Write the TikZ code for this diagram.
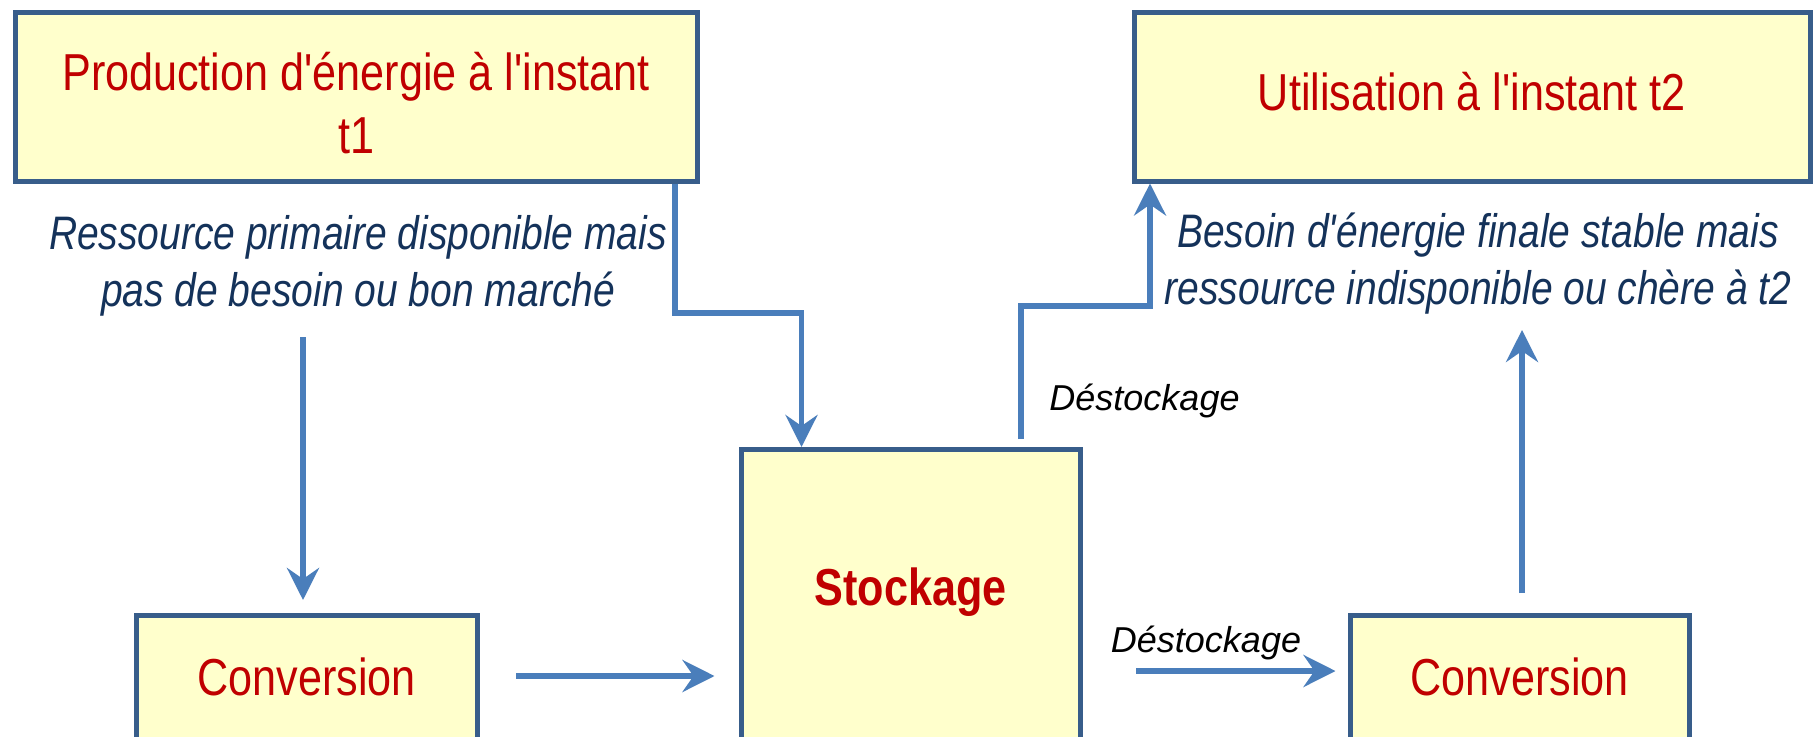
\documentclass[tikz,border=0pt]{standalone}
\usepackage{fontspec}
\setmainfont{Liberation Sans}[Ligatures=TeXOff]
\newfontfamily\narrowfont{Liberation Sans}[FakeStretch=0.83, Ligatures=TeXOff]
\usetikzlibrary{arrows.meta}
\definecolor{boxfill}{HTML}{FFFFCC}
\definecolor{boxdraw}{HTML}{385D8A}
\definecolor{conncol}{HTML}{4A7EBB}
\definecolor{redtext}{HTML}{C00000}
\definecolor{navytext}{HTML}{14325A}
\begin{document}
\begin{tikzpicture}[x=1pt,y=-1pt,
  boxnode/.style={draw=boxdraw, fill=boxfill, line width=5pt, inner sep=0pt, text=redtext,
    font=\narrowfont\fontsize{52pt}{63pt}\selectfont, align=center},
  desctext/.style={inner sep=0pt, text=navytext,
    font=\narrowfont\itshape\fontsize{47pt}{57pt}\selectfont, align=center},
  destext/.style={inner sep=0pt, font=\itshape\fontsize{36pt}{43pt}\selectfont},
  conn/.style={draw=conncol, line width=5.5pt, -{Stealth[length=32pt,width=32pt,inset=11pt]}},
  connthick/.style={conn, line width=6.5pt},
]
\fill[white] (0,0) rectangle (1814,736);
\useasboundingbox (0,0) rectangle (1814,736);

% boxes
\node[boxnode, minimum width=682pt, minimum height=169pt] (prod) at (356,96.5)
  {\rule{0pt}{52pt}Production d'énergie à l'instant\\t1};
\node[boxnode, minimum width=676pt, minimum height=169pt, text depth=11pt] (util) at (1472,96.5)
  {Utilisation à l'instant t2};
\node[boxnode, minimum width=339pt, anchor=north, text height=156pt, text depth=150pt,
  font=\narrowfont\bfseries\fontsize{52pt}{63pt}\selectfont] (stock) at (910.5,447) {Stockage};
\node[boxnode, minimum width=341pt, anchor=north, text height=80pt, text depth=50pt] (conv1) at (306.5,613) {Conversion};
\node[boxnode, minimum width=339pt, anchor=north, text height=80pt, text depth=50pt] (conv2) at (1519.5,613) {Conversion};

% descriptions
\node[desctext] (desc1) at (358,266) {Ressource primaire disponible mais\\pas de besoin ou bon marché};
\node[desctext] (desc2) at (1478,264) {Besoin d'énergie finale stable mais\\ressource indisponible ou chère à t2};
\node[destext, anchor=base] (lab1) at (1144.5,410) {Déstockage};
\node[destext, anchor=base] (lab2) at (1206,652) {Déstockage};

% connectors
\coordinate (j1) at (675,313);
\coordinate (j2) at (801.5,313);
\draw[conn] (prod.south -| j1) -- (j1) -- (j2) -- (stock.north -| j2);

\coordinate (j3) at (1021,306);
\coordinate (j4) at (1150,306);
\draw[conn] ([yshift=8pt]stock.north -| j3) -- (j3) -- (j4) -- (util.south -| j4);

\coordinate (a1) at (303,337);
\draw[conn] (a1) -- ([yshift=13pt]conv1.north -| a1);

\coordinate (a2) at (1522,330);
\draw[conn] ([yshift=20pt]conv2.north -| a2) -- (a2);

\coordinate (h1) at (516,676);
\draw[connthick] (h1) -- ([xshift=-24pt]stock.west |- h1);
\coordinate (h2) at (1136,671);
\draw[connthick] (h2) -- ([xshift=-12pt]conv2.west |- h2);
\end{tikzpicture}
\end{document}
